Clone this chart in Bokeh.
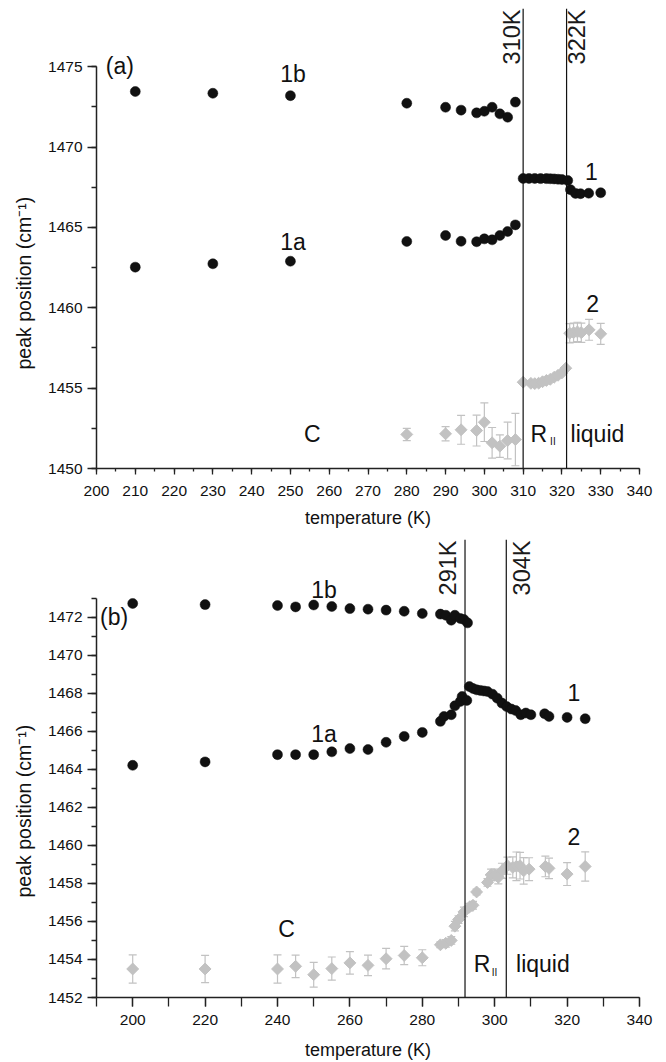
import numpy as np
from bokeh.plotting import figure
from bokeh.layouts import column
from bokeh.models import ColumnDataSource, Whisker, TeeHead, Span, SingleIntervalTicker, Title
from bokeh.core.properties import value
from bokeh.embed import file_html
from bokeh.resources import INLINE

# ---------------- panel (a) data ----------------
a_t_split = [210, 230, 250, 280, 290, 294, 298, 300, 302, 304, 306, 308]
a_1b = [1473.46, 1473.35, 1473.20, 1472.73, 1472.48, 1472.30, 1472.13, 1472.23, 1472.48, 1472.07, 1471.86, 1472.80]
a_1a = [1462.53, 1462.74, 1462.90, 1464.13, 1464.50, 1464.14, 1464.11, 1464.29, 1464.23, 1464.50, 1464.75, 1465.16]
a_t_1 = [310, 311.5, 313, 314.5, 316, 317, 318, 319, 320, 321.5, 322.2, 323.5, 324.8, 326.9, 330]
a_1 = [1468.05, 1468.05, 1468.05, 1468.04, 1468.04, 1468.03, 1468.02, 1468.00, 1467.98, 1467.92,
       1467.35, 1467.12, 1467.10, 1467.13, 1467.16]
a_t_2 = [280, 290, 294, 298, 300, 302, 304, 306, 308,
         310, 312, 313, 314, 315, 316, 317, 318, 319, 320, 321,
         322, 323, 324, 325, 327, 330]
a_2 = [1452.12, 1452.16, 1452.41, 1452.36, 1452.88, 1451.60, 1451.39, 1451.74, 1451.80,
       1455.37, 1455.30, 1455.28, 1455.31, 1455.40, 1455.48, 1455.55, 1455.68, 1455.80, 1455.95, 1456.24,
       1458.42, 1458.45, 1458.50, 1458.45, 1458.63, 1458.38]
a_2_err = [0.38, 0.44, 0.90, 0.96, 1.20, 0.95, 0.70, 1.14, 1.63,
           0.10, 0.10, 0.10, 0.10, 0.10, 0.10, 0.10, 0.10, 0.10, 0.10, 0.10,
           0.60, 0.60, 0.60, 0.60, 0.65, 0.65]
a_lines = [310, 321.2]
a_line_labels = ["310K", "322K"]

# ---------------- panel (b) data ----------------
b_t_1b = [200, 220, 240, 245, 250, 255, 260, 265, 270, 275, 280, 285, 286.5, 288, 289, 290.5, 291.5, 292.5]
b_1b = [1472.72, 1472.66, 1472.61, 1472.54, 1472.64, 1472.56, 1472.45, 1472.42, 1472.37, 1472.31,
        1472.19, 1472.16, 1472.10, 1471.84, 1472.10, 1471.93, 1471.88, 1471.70]
b_t_1a = [200, 220, 240, 245, 250, 255, 260, 265, 270, 275, 280, 285, 286, 288, 289, 290.5, 291, 292.3]
b_1a = [1464.21, 1464.39, 1464.77, 1464.77, 1464.77, 1464.92, 1465.09, 1465.04, 1465.42, 1465.73,
        1465.94, 1466.52, 1466.78, 1466.87, 1467.34, 1467.57, 1467.83, 1467.62]
b_t_1 = [293, 294, 295, 296, 297, 298, 299.4, 300.7, 302, 303.3, 304.6, 305.8, 307.2, 308.6, 310, 313.8, 315, 320, 325]
b_1 = [1468.35, 1468.25, 1468.18, 1468.15, 1468.12, 1468.09, 1467.95, 1467.74, 1467.48, 1467.30,
       1467.17, 1467.09, 1466.87, 1466.96, 1466.87, 1466.92, 1466.78, 1466.73, 1466.66]
b_t_2 = [200, 220, 240, 245, 250, 255, 260, 265, 270, 275, 280, 285, 286.5, 288, 289, 290, 291.5,
         293, 294, 295, 298, 299, 300, 301, 302, 303.5, 305, 306, 307, 308, 309.5, 314, 315, 320, 325]
b_2 = [1453.50, 1453.50, 1453.50, 1453.64, 1453.20, 1453.52, 1453.82, 1453.69, 1454.04, 1454.21,
       1454.09, 1454.77, 1454.85, 1455.00, 1455.75, 1456.10, 1456.50, 1456.75, 1456.85, 1457.55,
       1458.05, 1458.45, 1458.45, 1458.32, 1458.66, 1458.93, 1458.84, 1458.90, 1458.93, 1458.66,
       1458.75, 1458.89, 1458.79, 1458.49, 1458.89]
b_2_err = [0.74, 0.72, 0.74, 0.59, 0.65, 0.61, 0.59, 0.54, 0.54, 0.48,
           0.42, 0.15, 0.20, 0.20, 0.25, 0.20, 0.25, 0.20, 0.20, 0.15,
           0.20, 0.30, 0.30, 0.35, 0.40, 0.45, 0.55, 0.75, 0.70, 0.70,
           0.60, 0.54, 0.54, 0.60, 0.77]
b_lines = [291.8, 303.2]
b_line_labels = ["291K", "304K"]

FONT = value("Liberation Sans")
BLACK = "#111111"
GRAY = "#c2c2c2"
AX = "#222222"


def base_fig(height, xr, yr, ybounds, top_border, bottom_border, xmaj, xminor_n, ymaj, yminor_n, xtick_out, xminor_out):
    p = figure(width=660, height=height, x_range=xr, y_range=yr,
               output_backend="svg", toolbar_location=None,
               min_border_left=95, min_border_right=21,
               min_border_top=top_border, min_border_bottom=bottom_border,
               outline_line_color=None, background_fill_color="white", border_fill_color="white")
    p.xgrid.visible = False
    p.ygrid.visible = False
    for ax in (p.xaxis[0], p.yaxis[0]):
        ax.axis_line_color = AX
        ax.axis_line_width = 1.5
        ax.major_tick_line_color = AX
        ax.minor_tick_line_color = AX
        ax.major_tick_line_width = 1.3
        ax.minor_tick_line_width = 1.3
        ax.major_tick_in = 0
        ax.minor_tick_in = 0
        ax.major_label_text_font = "Liberation Sans"
        ax.major_label_text_font_size = "15.5px"
        ax.major_label_text_color = BLACK
    p.xaxis.ticker = SingleIntervalTicker(interval=xmaj, num_minor_ticks=xminor_n)
    p.yaxis.ticker = SingleIntervalTicker(interval=ymaj, num_minor_ticks=yminor_n)
    p.xaxis.major_tick_out = xtick_out
    p.xaxis.minor_tick_out = xminor_out
    p.yaxis.major_tick_out = 9
    p.yaxis.minor_tick_out = 5
    p.yaxis.major_label_standoff = 5
    p.yaxis.bounds = ybounds
    p.xaxis.axis_label = "temperature (K)"
    p.xaxis.axis_label_text_font = "Liberation Sans"
    p.xaxis.axis_label_text_font_size = "18px"
    p.xaxis.axis_label_text_font_style = "normal"
    p.xaxis.axis_label_text_color = BLACK
    return p


def add_ylabel(p, offset):
    t = Title(text="peak position (cm\u207b\u00b9)", align="left", offset=offset,
              text_font="Liberation Sans", text_font_size="19.5px", text_font_style="normal",
              text_color=BLACK, standoff=21)
    p.add_layout(t, "left")


def add_series(p, t, v, err=None, kind="circle"):
    if kind == "circle":
        p.scatter(t, v, marker="circle", size=10, fill_color=BLACK, line_color=BLACK, line_width=0.5)
    else:
        src = ColumnDataSource(dict(x=t, y=v,
                                    lo=[a - b for a, b in zip(v, err)],
                                    hi=[a + b for a, b in zip(v, err)]))
        w = Whisker(base="x", lower="lo", upper="hi", source=src, dimension="height",
                    line_color=GRAY, line_width=1.2,
                    upper_head=TeeHead(size=8, line_color=GRAY, line_width=1.2),
                    lower_head=TeeHead(size=8, line_color=GRAY, line_width=1.2))
        p.add_layout(w)
        p.scatter("x", "y", source=src, marker="square", angle=np.pi / 4, size=8.4,
                  fill_color=GRAY, line_color=GRAY)


def add_text(p, x, y, txt, size="23px", align="left"):
    p.text(x=[x], y=[y], text=[txt], text_font=FONT, text_font_size=size,
           text_color=BLACK, text_align=align, text_baseline="middle")


def add_vlines(p, locs, labels, ytop, xoffs):
    for loc, lab, xoff in zip(locs, labels, xoffs):
        p.add_layout(Span(location=loc, dimension="height", line_color=BLACK, line_width=1.2))
        p.text(x=[loc], y=[ytop], text=[lab], angle=np.pi / 2, text_font=FONT,
               text_font_size="23.5px", text_color="#1a1a1a", text_align="right",
               text_baseline="middle", x_offset=xoff, y_offset=1)


# ---------------- panel (a) ----------------
A_TOP = 1450 + 460 / 16.07
pa = base_fig(530, (200, 340), (1450, A_TOP), (1450, 1475), 8, 62, 10, 2, 5, 2, 6, 3)
pa.xaxis.major_label_standoff = 11
pa.xaxis.axis_label_standoff = 9
add_ylabel(pa, 99)
add_vlines(pa, a_lines, a_line_labels, A_TOP, [-11, 10.5])
add_series(pa, a_t_2, a_2, a_2_err, kind="diamond")
add_series(pa, a_t_split, a_1b)
add_series(pa, a_t_split, a_1a)
add_series(pa, a_t_1, a_1)
add_text(pa, 202.4, 1475.07, "(a)")
add_text(pa, 247.35, 1474.55, "1b")
add_text(pa, 247.35, 1464.09, "1a")
add_text(pa, 327.6, 1468.51, "1", align="center")
add_text(pa, 327.9, 1460.24, "2", align="center")
add_text(pa, 253.5, 1452.15, "C")
add_text(pa, 311.9, 1452.15, "R")
add_text(pa, 316.95, 1451.65, "II", size="10px")
add_text(pa, 322.23, 1452.15, "liquid")

# ---------------- panel (b) ----------------
B_TOP = 1452 + 460 / 19.1
pb = base_fig(532, (190, 340), (1452, B_TOP), (1452, 1473), 9, 63, 20, 2, 2, 2, 9, 9)
pb.xaxis.major_label_standoff = 8
pb.xaxis.axis_label_standoff = 12
add_ylabel(pb, 100)
add_vlines(pb, b_lines, b_line_labels, B_TOP, [-16.8, 16])
add_series(pb, b_t_2, b_2, b_2_err, kind="diamond")
add_series(pb, b_t_1b, b_1b)
add_series(pb, b_t_1a, b_1a)
add_series(pb, b_t_1, b_1)
add_text(pb, 191.0, 1471.99, "(b)")
add_text(pb, 249.3, 1473.41, "1b")
add_text(pb, 249.3, 1465.85, "1a")
add_text(pb, 321.9, 1468.02, "1", align="center")
add_text(pb, 321.9, 1460.46, "2", align="center")
add_text(pb, 240.2, 1455.59, "C")
add_text(pb, 294.2, 1453.78, "R")
add_text(pb, 299.2, 1453.31, "II", size="10px")
add_text(pb, 305.9, 1453.78, "liquid")

layout = column(pa, pb, spacing=0)
open("out.html", "w").write(file_html(layout, INLINE))
